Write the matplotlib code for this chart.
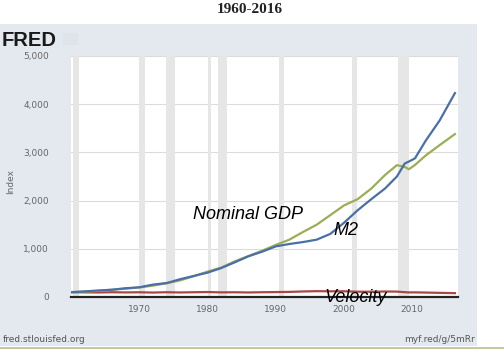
import matplotlib.pyplot as plt
from matplotlib.patches import Rectangle
from matplotlib.lines import Line2D

# index values, 1960 = 100
years = [1960, 1962, 1964, 1966, 1968, 1970, 1972, 1974, 1976, 1978, 1980, 1982,
         1984, 1986, 1988, 1990, 1992, 1994, 1996, 1998, 2000, 2002, 2004, 2006,
         2007.75, 2008.9, 2009.5, 2010.4, 2012, 2014, 2016.25]
m2 = [100, 116, 135, 151, 182, 201, 257, 289, 370, 437, 505, 600,
      720, 845, 940, 1050, 1100, 1140, 1190, 1310, 1540, 1800, 2030, 2250,
      2500, 2770, 2810, 2877, 3250, 3660, 4230]
gdp = [100, 111, 126, 150, 173, 198, 236, 285, 345, 433, 526, 610,
       740, 850, 960, 1080, 1190, 1350, 1500, 1700, 1900, 2030, 2250, 2530,
       2735, 2700, 2650, 2740, 2940, 3150, 3380]
velocity = [100, 96, 94, 99, 95, 98, 92, 99, 94, 99, 103, 96,
            98, 94, 99, 102, 106, 115, 121, 118, 119, 110, 109, 114,
            112, 100, 95, 96, 92, 86, 80]

recessions = [(1960.3, 1961.1), (1969.9, 1970.9), (1973.9, 1975.2), (1980.0, 1980.5),
              (1981.5, 1982.9), (1990.5, 1991.2), (2001.2, 2001.9), (2007.9, 2009.5)]

fig = plt.figure(figsize=(5.04, 3.52), dpi=100, facecolor='white')

# grey FRED panel behind the chart
fig.patches.append(Rectangle((0, 6 / 352), 477 / 504, 322 / 352, transform=fig.transFigure,
                             facecolor='#e4e8ef', edgecolor='none', zorder=-5))
fig.lines.append(Line2D([0, 1], [4 / 352, 4 / 352], transform=fig.transFigure,
                        color='#b8c08e', lw=1.2, zorder=-4))
# little logo box next to "FRED"
fig.patches.append(Rectangle((63 / 504, 1 - 45 / 352), 15 / 504, 12 / 352,
                             transform=fig.transFigure, facecolor='#dfe3ea',
                             edgecolor='none', zorder=-3))

ax = fig.add_axes([71 / 504, 55 / 352, 387 / 504, 241 / 352])
ax.set_facecolor('white')

for a, b in recessions:
    ax.axvspan(a, b, color='#e6e6e6', lw=0, zorder=1)

ax.plot(years, velocity, color='#aa4643', lw=1.6, zorder=3)
ax.plot(years, gdp, color='#9aae55', lw=1.6, zorder=3)
ax.plot(years, m2, color='#4a6fa8', lw=1.6, zorder=4)

ax.set_xlim(1960, 2016.7)
ax.set_ylim(0, 5000)
ax.set_yticks(range(0, 5001, 1000))
ax.set_yticklabels(['0', '1,000', '2,000', '3,000', '4,000', '5,000'])
ax.set_xticks([1970, 1980, 1990, 2000, 2010])
ax.grid(axis='y', color='#dcdcdc', lw=0.8, zorder=0)
ax.set_axisbelow(True)
for s in ['top', 'right', 'left']:
    ax.spines[s].set_visible(False)
ax.spines['bottom'].set_color('#222222')
ax.spines['bottom'].set_linewidth(1.6)
ax.spines['bottom'].set_zorder(5)
ax.tick_params(axis='y', length=0, pad=16, labelsize=6.5, labelcolor='#666666')
ax.tick_params(axis='x', length=0, pad=6, labelsize=6.5, labelcolor='#666666')
ax.set_ylabel('Index', fontsize=6.5, color='#666666')
ax.yaxis.set_label_coords((15 - 71) / 387, 0.48)

txt = dict(fontsize=13, style='italic', family='Liberation Sans', color='black', zorder=6)
ax.text(1977.9, 1720, 'Nominal GDP', va='center', **txt)
ax.text(1998.4, 1390, 'M2', va='center', **txt)
ax.text(1997.2, -20, 'Velocity', va='center', clip_on=False, **txt)

fig.text(0.496, 0.972, '1960-2016', ha='center', va='center', fontsize=11,
         family='Liberation Serif', weight='bold', color='#222222')
fig.text(2 / 504, 1 - 40 / 352, 'FRED', ha='left', va='center', fontsize=14.5,
         family='Liberation Sans', weight='heavy', color='#1a1a1a')
fig.text(3 / 504, 1 - 340 / 352, 'fred.stlouisfed.org', ha='left', va='center',
         fontsize=6.5, color='#555555')
fig.text(475 / 504, 1 - 340 / 352, 'myf.red/g/5mRr', ha='right', va='center',
         fontsize=6.5, color='#555555')

fig.savefig('out.png', dpi=100, facecolor='white')
